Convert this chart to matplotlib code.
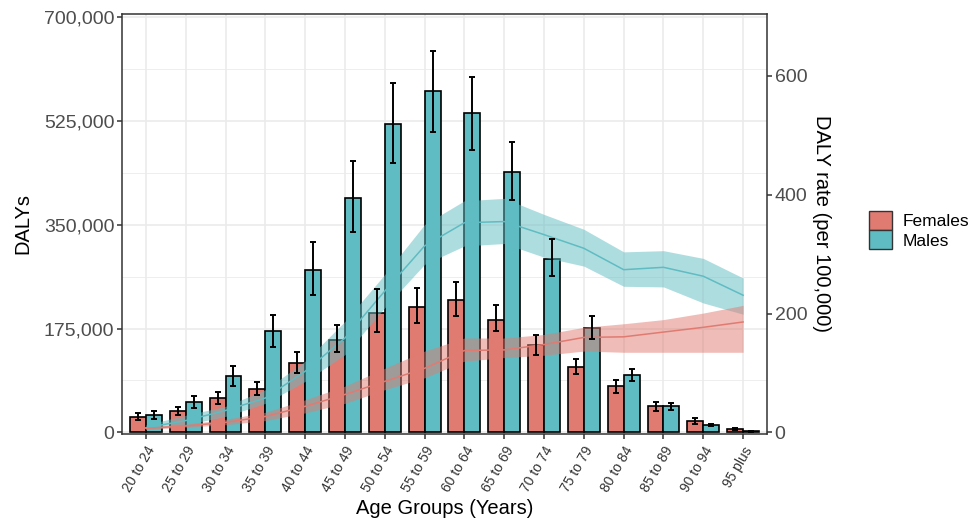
import numpy as np
import matplotlib
matplotlib.use("Agg")
import matplotlib.pyplot as plt
from matplotlib.patches import Patch
from matplotlib.ticker import FuncFormatter, MultipleLocator

plt.rcParams["font.family"] = ["Liberation Sans", "DejaVu Sans"]

# data
age_groups = ["20 to 24", "25 to 29", "30 to 34", "35 to 39", "40 to 44", "45 to 49",
              "50 to 54", "55 to 59", "60 to 64", "65 to 69", "70 to 74", "75 to 79",
              "80 to 84", "85 to 89", "90 to 94", "95 plus"]

female_dalys = [26500, 36600, 57300, 73700, 116900, 156300, 200700, 211400,
                222600, 190100, 146700, 110800, 78100, 44400, 18600, 5600]
female_lo = [20700, 29900, 48400, 63600, 100000, 135400, 168700, 184400,
             196200, 170400, 131100, 98300, 66300, 36600, 14000, 4500]
female_hi = [32000, 43300, 68000, 84800, 136100, 180500, 241200, 242900,
             253000, 215400, 164800, 123600, 88900, 51100, 23600, 7300]

male_dalys = [28700, 50600, 94500, 170900, 273200, 395200, 519000, 575200,
              536900, 439100, 292300, 176000, 96100, 44400, 13000, 2500]
male_lo = [21900, 40500, 78100, 143400, 230600, 337300, 453200, 506500,
           475100, 391800, 262600, 158000, 86000, 38300, 11300, 1500]
male_hi = [36600, 61200, 111800, 197900, 321000, 457100, 588100, 642600,
           597600, 489700, 325000, 196200, 106800, 50100, 14700, 3000]

# DALY rate per 100,000 (right axis)
female_rate = [7, 11, 17, 27, 44, 64, 86, 108, 138, 139, 148, 160, 161, 169, 177, 186]
female_rate_lo = [5, 9, 13, 20, 33, 49, 72, 92, 120, 126, 130, 137, 135, 135, 135, 135]
female_rate_hi = [9, 14, 22, 34, 55, 78, 108, 137, 159, 159, 165, 177, 183, 190, 201, 214]

male_rate = [8, 20, 37, 58, 103, 159, 238, 314, 353, 355, 333, 310, 274, 278, 263, 231]
male_rate_lo = [5, 13, 27, 49, 86, 131, 210, 283, 314, 318, 295, 280, 246, 245, 218, 199]
male_rate_hi = [13, 29, 44, 72, 120, 187, 266, 350, 390, 394, 367, 342, 304, 306, 293, 260]

RATE_SCALE = 1000  # secondary axis = DALYs / 1000

F_COL = "#E07B72"
M_COL = "#5FBCC2"
TICK_COL = "#4D4D4D"
BORDER = "#333333"

fig = plt.figure(figsize=(9.75, 5.25), dpi=100)
ax = fig.add_axes([122 / 975, 1 - 433.5 / 525, (767 - 122) / 975, (433.5 - 14) / 525])

x = np.arange(len(age_groups))
w = 0.4

# bars
ax.bar(x - w / 2, female_dalys, width=w, color=F_COL, edgecolor="black", linewidth=1.2, zorder=2)
ax.bar(x + w / 2, male_dalys, width=w, color=M_COL, edgecolor="black", linewidth=1.2, zorder=2)

# rate bands + lines, scaled onto the primary axis
for rate, lo, hi, col in [(male_rate, male_rate_lo, male_rate_hi, M_COL),
                          (female_rate, female_rate_lo, female_rate_hi, F_COL)]:
    ax.fill_between(x, np.array(lo) * RATE_SCALE, np.array(hi) * RATE_SCALE,
                    color=col, alpha=0.5, linewidth=0, zorder=3)
    ax.plot(x, np.array(rate) * RATE_SCALE, color=col, linewidth=1.1, zorder=4)

# error bars
for xs, v, lo, hi in [(x - w / 2, female_dalys, female_lo, female_hi),
                      (x + w / 2, male_dalys, male_lo, male_hi)]:
    v = np.array(v)
    ax.errorbar(xs, v, yerr=[v - np.array(lo), np.array(hi) - v], fmt="none",
                ecolor="black", elinewidth=1.4, capsize=2.4, capthick=1.4, zorder=5)

ylo, yhi = -1700, 704300
ax.set_ylim(ylo, yhi)
ax.set_xlim(-0.6, len(age_groups) - 0.4)

ax.yaxis.set_major_locator(MultipleLocator(175000))
ax.yaxis.set_minor_locator(MultipleLocator(87500))
ax.yaxis.set_major_formatter(FuncFormatter(lambda v, p: f"{int(v):,}"))
ax.set_xticks(x)
ax.set_xticklabels(age_groups, rotation=60, ha="right", rotation_mode="anchor",
                   fontsize=10, color="#333333")

ax.grid(True, which="major", color="#EBEBEB", linewidth=1.2, zorder=0)
ax.grid(True, which="minor", axis="y", color="#EBEBEB", linewidth=0.6, zorder=0)
ax.set_axisbelow(True)

ax.tick_params(axis="both", which="major", length=3.5, width=1.1, color=BORDER,
               labelcolor=TICK_COL, pad=2)
ax.tick_params(axis="y", labelsize=14)
ax.tick_params(axis="x", pad=4, labelcolor="#333333")
ax.tick_params(which="minor", length=0)
for s in ax.spines.values():
    s.set_color(BORDER)
    s.set_linewidth(1.1)

ax.set_ylabel("DALYs", fontsize=14.5, labelpad=8)
ax.set_xlabel("Age Groups (Years)", fontsize=14.5, labelpad=3)

# secondary axis for rate
ax2 = ax.twinx()
ax2.set_ylim(ylo / RATE_SCALE, yhi / RATE_SCALE)
ax2.set_yticks([0, 200, 400, 600])
ax2.tick_params(axis="y", length=3.5, width=1.1, color=BORDER, labelcolor=TICK_COL,
                labelsize=14, pad=2)
for s in ax2.spines.values():
    s.set_visible(False)
ax2.set_ylabel("DALY rate (per 100,000)", fontsize=14.5, rotation=270, labelpad=17)

handles = [Patch(facecolor=F_COL, edgecolor=BORDER, linewidth=1.0, label="Females"),
           Patch(facecolor=M_COL, edgecolor=BORDER, linewidth=1.0, label="Males")]
fig.legend(handles=handles, loc="center left", bbox_to_anchor=(869 / 975, 1 - 230 / 525),
           frameon=False, fontsize=12.5, handlelength=1.3, handleheight=1.3,
           labelspacing=0.05, handletextpad=0.65, borderpad=0, borderaxespad=0)

fig.savefig("out.png", dpi=100)
